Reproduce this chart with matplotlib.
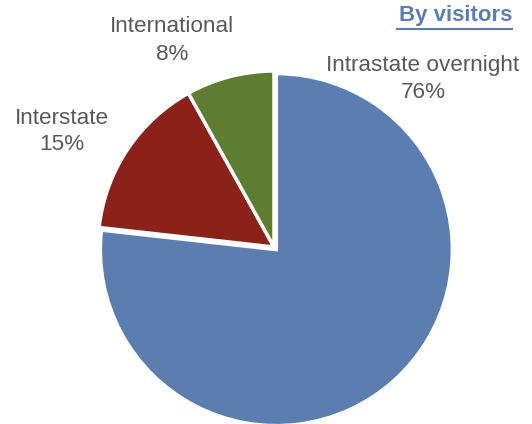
import matplotlib.pyplot as plt

labels = ['Intrastate overnight', 'Interstate', 'International']
shares = [76, 15, 8]
colors = ['#5B7DB0', '#8B2219', '#5E7D30']

W, H = 532, 424
plt.rcParams['font.family'] = ['Liberation Sans', 'DejaVu Sans']

fig = plt.figure(figsize=(W / 100, H / 100), dpi=100)

# pie axes placed in pixel terms
cx, cy, r = 274, 247, 176
ax = fig.add_axes([(cx - r) / W, 1 - (cy + r) / H, 2 * r / W, 2 * r / H])
ax.pie(shares, colors=colors, startangle=90, counterclock=False,
       explode=[0.02, 0, 0], radius=1,
       wedgeprops=dict(edgecolor='white', linewidth=2.5))
ax.set_xlim(-1, 1)
ax.set_ylim(-1, 1)
ax.set_aspect('equal')
ax.axis('off')
for p in ax.patches:
    p.set_clip_on(False)


def px(x, y):
    return x / W, 1 - y / H


# category labels with percentages
label_pos = {
    'Intrastate overnight': (423, 66),
    'Interstate': (62, 118),
    'International': (172, 27),
}
for name, val in zip(labels, shares):
    x, y = label_pos[name]
    fig.text(*px(x, y), name, ha='center', va='center', fontsize=16.2, color='#595959')
    fig.text(*px(x, y + 27), f'{val}%', ha='center', va='center', fontsize=16.2, color='#595959')

# heading, underlined
fig.text(*px(512, 16), 'By visitors', ha='right', va='center', fontsize=16,
         fontweight='bold', color='#5B7DB0')
fig.add_artist(plt.Line2D([397 / W, 512 / W], [1 - 28.5 / H, 1 - 28.5 / H],
                          color='#5B7DB0', linewidth=1.5))

fig.savefig('out.png', dpi=100)
